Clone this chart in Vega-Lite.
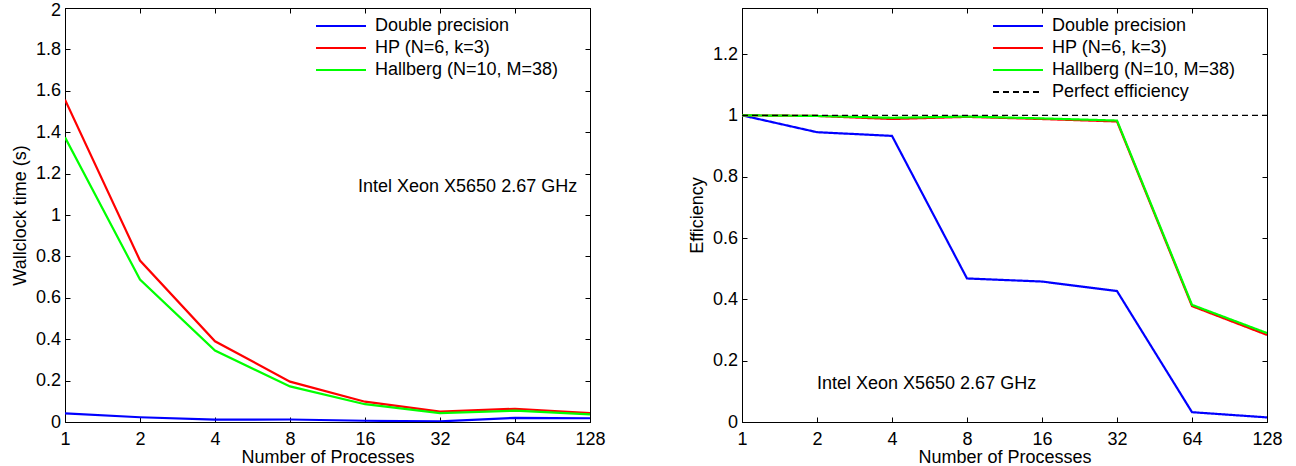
{
  "$schema": "https://vega.github.io/schema/vega-lite/v6.json",
  "background": "white",
  "padding": {"left": 10, "top": 0, "right": 0, "bottom": 0},
  "config": {
    "font": "Liberation Sans",
    "view": {"stroke": "black", "strokeWidth": 1},
    "axis": {
      "domainColor": "black", "tickColor": "black", "labelColor": "black", "titleColor": "black",
      "labelFont": "Liberation Sans", "titleFont": "Liberation Sans",
      "labelFontSize": 18, "titleFontSize": 18, "titleFontWeight": "normal",
      "grid": false, "tickSize": -5, "domainWidth": 1, "tickWidth": 1, "labelFlush": false
    },
    "text": {"font": "Liberation Sans"}
  },
  "datasets": {
    "time": [
      {"series": "Double precision", "processes": 1, "value": 0.042},
      {"series": "Double precision", "processes": 2, "value": 0.023},
      {"series": "Double precision", "processes": 4, "value": 0.011},
      {"series": "Double precision", "processes": 8, "value": 0.012},
      {"series": "Double precision", "processes": 16, "value": 0.006},
      {"series": "Double precision", "processes": 32, "value": 0.003},
      {"series": "Double precision", "processes": 64, "value": 0.02},
      {"series": "Double precision", "processes": 128, "value": 0.018},
      {"series": "HP (N=6, k=3)", "processes": 1, "value": 1.557},
      {"series": "HP (N=6, k=3)", "processes": 2, "value": 0.78},
      {"series": "HP (N=6, k=3)", "processes": 4, "value": 0.39},
      {"series": "HP (N=6, k=3)", "processes": 8, "value": 0.195},
      {"series": "HP (N=6, k=3)", "processes": 16, "value": 0.098},
      {"series": "HP (N=6, k=3)", "processes": 32, "value": 0.05},
      {"series": "HP (N=6, k=3)", "processes": 64, "value": 0.064},
      {"series": "HP (N=6, k=3)", "processes": 128, "value": 0.043},
      {"series": "Hallberg (N=10, M=38)", "processes": 1, "value": 1.375},
      {"series": "Hallberg (N=10, M=38)", "processes": 2, "value": 0.688},
      {"series": "Hallberg (N=10, M=38)", "processes": 4, "value": 0.345},
      {"series": "Hallberg (N=10, M=38)", "processes": 8, "value": 0.172},
      {"series": "Hallberg (N=10, M=38)", "processes": 16, "value": 0.086},
      {"series": "Hallberg (N=10, M=38)", "processes": 32, "value": 0.043},
      {"series": "Hallberg (N=10, M=38)", "processes": 64, "value": 0.055},
      {"series": "Hallberg (N=10, M=38)", "processes": 128, "value": 0.037}
    ],
    "eff": [
      {"series": "Double precision", "processes": 1, "value": 1.0},
      {"series": "Double precision", "processes": 2, "value": 0.945},
      {"series": "Double precision", "processes": 4, "value": 0.933},
      {"series": "Double precision", "processes": 8, "value": 0.468},
      {"series": "Double precision", "processes": 16, "value": 0.458},
      {"series": "Double precision", "processes": 32, "value": 0.427},
      {"series": "Double precision", "processes": 64, "value": 0.032},
      {"series": "Double precision", "processes": 128, "value": 0.015},
      {"series": "HP (N=6, k=3)", "processes": 1, "value": 1.0},
      {"series": "HP (N=6, k=3)", "processes": 2, "value": 0.998},
      {"series": "HP (N=6, k=3)", "processes": 4, "value": 0.988},
      {"series": "HP (N=6, k=3)", "processes": 8, "value": 0.995},
      {"series": "HP (N=6, k=3)", "processes": 16, "value": 0.988},
      {"series": "HP (N=6, k=3)", "processes": 32, "value": 0.98},
      {"series": "HP (N=6, k=3)", "processes": 64, "value": 0.378},
      {"series": "HP (N=6, k=3)", "processes": 128, "value": 0.284},
      {"series": "Hallberg (N=10, M=38)", "processes": 1, "value": 1.0},
      {"series": "Hallberg (N=10, M=38)", "processes": 2, "value": 0.998},
      {"series": "Hallberg (N=10, M=38)", "processes": 4, "value": 0.992},
      {"series": "Hallberg (N=10, M=38)", "processes": 8, "value": 0.996},
      {"series": "Hallberg (N=10, M=38)", "processes": 16, "value": 0.99},
      {"series": "Hallberg (N=10, M=38)", "processes": 32, "value": 0.983},
      {"series": "Hallberg (N=10, M=38)", "processes": 64, "value": 0.382},
      {"series": "Hallberg (N=10, M=38)", "processes": 128, "value": 0.29},
      {"series": "Perfect efficiency", "processes": 1, "value": 1.0},
      {"series": "Perfect efficiency", "processes": 128, "value": 1.0}
    ],
    "notes": [
      {"panel": "time", "processes": 15, "value": 1.135, "label": "Intel Xeon X5650 2.67 GHz"},
      {"panel": "eff", "processes": 2, "value": 0.125, "label": "Intel Xeon X5650 2.67 GHz"}
    ]
  },
  "spacing": 81,
  "hconcat": [
    {
      "width": 525,
      "height": 414,
      "layer": [
        {
          "data": {"name": "time"},
          "mark": {"type": "line", "strokeWidth": 2.2, "clip": true},
          "encoding": {
            "x": {"field": "processes", "type": "quantitative",
              "scale": {"type": "log", "base": 2, "domain": [1, 128]},
              "axis": {"orient": "bottom", "values": [1, 2, 4, 8, 16, 32, 64, 128], "format": "d",
                "title": "Number of Processes", "labelPadding": 13, "titlePadding": 0}},
            "y": {"field": "value", "type": "quantitative",
              "scale": {"domain": [0, 2]},
              "axis": {"orient": "left", "values": [0, 0.2, 0.4, 0.6, 0.8, 1, 1.2, 1.4, 1.6, 1.8, 2], "format": "~g",
                "title": "Wallclock time (s)", "labelPadding": 9.5, "titlePadding": 6,
                "labelOffset": {"condition": {"test": "datum.value >= 2", "value": 2}, "value": 0}}},
            "color": {"field": "series", "type": "nominal",
              "scale": {"domain": ["Double precision", "HP (N=6, k=3)", "Hallberg (N=10, M=38)"], "range": ["#0000ff", "#ff0000", "#00ff00"]},
              "legend": {"orient": "none", "legendX": 267, "legendY": 9, "title": null,
                "symbolType": "M-5,0H5", "symbolSize": 100, "symbolStrokeWidth": 2.2,
                "labelOffset": 25, "labelFontSize": 18, "labelFont": "Liberation Sans", "labelColor": "black",
                "rowPadding": 4, "padding": 0, "labelLimit": 400}}
          }
        },
        {
          "data": {"name": "notes"},
          "transform": [{"filter": "datum.panel === 'time'"}],
          "mark": {"type": "text", "align": "left", "baseline": "middle", "fontSize": 18, "color": "black"},
          "encoding": {
            "x": {"field": "processes", "type": "quantitative",
              "scale": {"type": "log", "base": 2, "domain": [1, 128]},
              "axis": {"orient": "top", "values": [1, 2, 4, 8, 16, 32, 64, 128], "labels": false, "title": null}},
            "y": {"field": "value", "type": "quantitative",
              "scale": {"domain": [0, 2]},
              "axis": {"orient": "right", "values": [0, 0.2, 0.4, 0.6, 0.8, 1, 1.2, 1.4, 1.6, 1.8, 2], "labels": false, "title": null}},
            "text": {"field": "label"}
          }
        }
      ],
      "resolve": {"axis": {"x": "independent", "y": "independent"}}
    },
    {
      "width": 525,
      "height": 414,
      "layer": [
        {
          "data": {"name": "eff"},
          "transform": [{"filter": "datum.series !== 'Perfect efficiency'"}],
          "mark": {"type": "line", "strokeWidth": 2.2, "clip": true},
          "encoding": {
            "x": {"field": "processes", "type": "quantitative",
              "scale": {"type": "log", "base": 2, "domain": [1, 128]},
              "axis": {"orient": "bottom", "values": [1, 2, 4, 8, 16, 32, 64, 128], "format": "d",
                "title": "Number of Processes", "labelPadding": 13, "titlePadding": 0}},
            "y": {"field": "value", "type": "quantitative",
              "scale": {"domain": [0, 1.35]},
              "axis": {"orient": "left", "values": [0, 0.2, 0.4, 0.6, 0.8, 1, 1.2], "format": "~g",
                "title": "Efficiency", "labelPadding": 9.5, "titlePadding": 6}},
            "color": {"field": "series", "type": "nominal",
              "scale": {"domain": ["Double precision", "HP (N=6, k=3)", "Hallberg (N=10, M=38)", "Perfect efficiency"], "range": ["#0000ff", "#ff0000", "#00ff00", "#000000"]},
              "legend": {"orient": "none", "legendX": 267, "legendY": 9, "title": null,
                "symbolType": "M-5,0H5", "symbolSize": 100, "symbolStrokeWidth": 2.2,
                "labelOffset": 25, "labelFontSize": 18, "labelFont": "Liberation Sans", "labelColor": "black",
                "rowPadding": 4, "padding": 0, "labelLimit": 400}},
            "strokeDash": {"field": "series", "type": "nominal",
              "scale": {"domain": ["Double precision", "HP (N=6, k=3)", "Hallberg (N=10, M=38)", "Perfect efficiency"], "range": [[1, 0], [1, 0], [1, 0], [6, 4]]},
              "legend": {"orient": "none", "legendX": 267, "legendY": 9, "title": null,
                "symbolType": "M-5,0H5", "symbolSize": 100, "symbolStrokeWidth": 2.2,
                "labelOffset": 25, "labelFontSize": 18, "labelFont": "Liberation Sans", "labelColor": "black",
                "rowPadding": 4, "padding": 0, "labelLimit": 400}}
          }
        },
        {
          "data": {"name": "eff"},
          "transform": [{"filter": "datum.series === 'Perfect efficiency'"}],
          "mark": {"type": "line", "strokeWidth": 1.1, "clip": true},
          "encoding": {
            "x": {"field": "processes", "type": "quantitative",
              "scale": {"type": "log", "base": 2, "domain": [1, 128]}, "axis": null},
            "y": {"field": "value", "type": "quantitative",
              "scale": {"domain": [0, 1.35]}, "axis": null},
            "color": {"field": "series", "type": "nominal",
              "scale": {"domain": ["Double precision", "HP (N=6, k=3)", "Hallberg (N=10, M=38)", "Perfect efficiency"], "range": ["#0000ff", "#ff0000", "#00ff00", "#000000"]}},
            "strokeDash": {"field": "series", "type": "nominal",
              "scale": {"domain": ["Double precision", "HP (N=6, k=3)", "Hallberg (N=10, M=38)", "Perfect efficiency"], "range": [[1, 0], [1, 0], [1, 0], [6, 4]]}}
          }
        },
        {
          "data": {"name": "notes"},
          "transform": [{"filter": "datum.panel === 'eff'"}],
          "mark": {"type": "text", "align": "left", "baseline": "middle", "fontSize": 18, "color": "black"},
          "encoding": {
            "x": {"field": "processes", "type": "quantitative",
              "scale": {"type": "log", "base": 2, "domain": [1, 128]},
              "axis": {"orient": "top", "values": [1, 2, 4, 8, 16, 32, 64, 128], "labels": false, "title": null}},
            "y": {"field": "value", "type": "quantitative",
              "scale": {"domain": [0, 1.35]},
              "axis": {"orient": "right", "values": [0, 0.2, 0.4, 0.6, 0.8, 1, 1.2], "labels": false, "title": null}},
            "text": {"field": "label"}
          }
        }
      ],
      "resolve": {"axis": {"x": "independent", "y": "independent"}}
    }
  ],
  "resolve": {"scale": {"color": "independent", "strokeDash": "independent"}, "legend": {"color": "independent", "strokeDash": "independent"}}
}
